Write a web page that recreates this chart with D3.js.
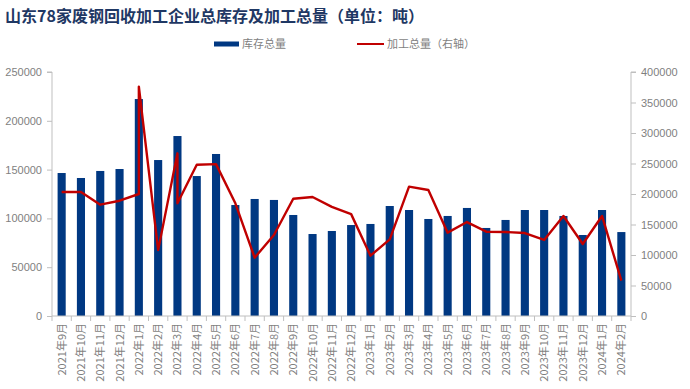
<!DOCTYPE html>
<html>
<head>
<meta charset="utf-8">
<script src="https://cdn.jsdelivr.net/npm/d3@7"></script>
<style>
  body { margin: 0; background: #fff; }
  svg { display: block; }
</style>
</head>
<body>
<div id="chart"></div>
<script>
// month labels on the x axis
const months = [
  '2021年9月', '2021年10月', '2021年11月', '2021年12月',
  '2022年1月', '2022年2月', '2022年3月', '2022年4月', '2022年5月', '2022年6月',
  '2022年7月', '2022年8月', '2022年9月', '2022年10月', '2022年11月', '2022年12月',
  '2023年1月', '2023年2月', '2023年3月', '2023年4月', '2023年5月', '2023年6月',
  '2023年7月', '2023年8月', '2023年9月', '2023年10月', '2023年11月', '2023年12月',
  '2024年1月', '2024年2月'
];

// 库存总量 (left axis)
const stock = [
  146500, 141400, 148600, 150600, 222300, 159800, 184400, 143400, 166000, 113700,
  119900, 118900, 103500, 84000, 87100, 93200, 94300, 112700, 108600, 99400,
  102500, 110700, 90200, 98400, 108600, 108600, 102500, 83000, 108600, 86000
];

// 加工总量 (right axis) - two readings in 2022年1月 and 2022年3月
const procMonths = [
  '2021年9月', '2021年10月', '2021年11月', '2021年12月',
  '2022年1月', '2022年1月', '2022年2月', '2022年3月', '2022年3月', '2022年4月',
  '2022年5月', '2022年6月', '2022年7月', '2022年8月', '2022年9月', '2022年10月',
  '2022年11月', '2022年12月', '2023年1月', '2023年2月', '2023年3月', '2023年4月',
  '2023年5月', '2023年6月', '2023年7月', '2023年8月', '2023年9月', '2023年10月',
  '2023年11月', '2023年12月', '2024年1月', '2024年2月'
];
const processed = [
  203300, 203300, 182500, 189000,
  200000, 376000, 108000, 266700, 184700, 248000,
  249000, 184700, 95600, 132800, 192300, 195000,
  179000, 167000, 98900, 125700, 212000, 206600,
  136600, 154000, 138200, 137700, 136000, 124600,
  164000, 118000, 164000, 57900
];

const leftTicks = [0, 50000, 100000, 150000, 200000, 250000];
const rightTicks = [0, 50000, 100000, 150000, 200000, 250000, 300000, 350000, 400000];

const W = 690, H = 389;
const mLeft = 52, mRight = 631, mTop = 72, mBottom = 316;
const axisColor = '#bfbfbf';
const textColor = '#7f7f7f';
const numFont = '"Liberation Sans", Arial, sans-serif';
const cjkFont = '"Noto Sans CJK SC", sans-serif';

const svg = d3.select('#chart').append('svg')
  .attr('width', W).attr('height', H)
  .attr('viewBox', [0, 0, W, H]);

const x = d3.scaleBand().domain(months).range([mLeft, mRight]).padding(0);
const yL = d3.scaleLinear().domain([0, 250000]).range([mBottom, mTop]);
const yR = d3.scaleLinear().domain([0, 400000]).range([mBottom, mTop]);

// title
svg.append('text')
  .attr('x', 5).attr('y', 22)
  .attr('font-family', cjkFont)
  .attr('font-weight', 'bold')
  .attr('font-size', 16)
  .attr('fill', '#1f3864')
  .text('山东78家废钢回收加工企业总库存及加工总量（单位：吨）');

// legend
const legend = svg.append('g').attr('font-family', cjkFont).attr('font-size', 11).attr('fill', textColor);
legend.append('rect').attr('x', 214).attr('y', 41.5).attr('width', 25).attr('height', 5).attr('fill', '#003882');
legend.append('text').attr('x', 242).attr('y', 48).text('库存总量');
legend.append('line').attr('x1', 357).attr('x2', 384).attr('y1', 44).attr('y2', 44)
  .attr('stroke', '#c00000').attr('stroke-width', 2);
legend.append('text').attr('x', 387).attr('y', 48).text('加工总量（右轴）');

// bars
const barW = x.bandwidth() * 0.42;
svg.append('g').selectAll('rect')
  .data(months)
  .join('rect')
  .attr('x', (d) => x(d) + (x.bandwidth() - barW) / 2)
  .attr('y', (d, i) => yL(stock[i]))
  .attr('width', barW)
  .attr('height', (d, i) => mBottom - yL(stock[i]))
  .attr('fill', '#003882');

// line
const line = d3.line()
  .x((d) => x(d[0]) + x.bandwidth() / 2)
  .y((d) => yR(d[1]));
svg.append('path')
  .datum(procMonths.map((m, i) => [m, processed[i]]))
  .attr('d', line)
  .attr('fill', 'none')
  .attr('stroke', '#c00000')
  .attr('stroke-width', 2.4)
  .attr('stroke-linejoin', 'round');

// left axis
const gL = svg.append('g')
  .attr('transform', `translate(${mLeft},0)`)
  .call(d3.axisLeft(yL).tickValues(leftTicks).tickSize(5).tickPadding(5).tickFormat(d3.format('d')));
// right axis
const gR = svg.append('g')
  .attr('transform', `translate(${mRight},0)`)
  .call(d3.axisRight(yR).tickValues(rightTicks).tickSize(5).tickPadding(5).tickFormat(d3.format('d')));

[gL, gR].forEach((g) => {
  g.select('.domain').attr('stroke', axisColor);
  g.selectAll('.tick line').attr('stroke', axisColor);
  g.selectAll('.tick text')
    .attr('fill', textColor)
    .attr('font-family', numFont)
    .attr('font-size', 11);
});
gL.select('.domain').attr('d', `M-5,${mTop}H0V${mBottom}`);
gR.select('.domain').attr('d', `M5,${mTop}H0V${mBottom}`);

// bottom axis: baseline, ticks at category boundaries, rotated labels
const gB = svg.append('g');
gB.append('line')
  .attr('x1', mLeft).attr('x2', mRight)
  .attr('y1', mBottom).attr('y2', mBottom)
  .attr('stroke', axisColor);
gB.selectAll('line.tick')
  .data(months.map((m) => x(m)).concat([mRight]))
  .join('line')
  .attr('class', 'tick')
  .attr('x1', (d) => d).attr('x2', (d) => d)
  .attr('y1', mBottom).attr('y2', mBottom + 5)
  .attr('stroke', axisColor);
gB.selectAll('text')
  .data(months)
  .join('text')
  .attr('transform', (d) => `translate(${x(d) + x.bandwidth() / 2 + 4},${mBottom + 7}) rotate(-90)`)
  .attr('text-anchor', 'end')
  .attr('font-family', cjkFont)
  .attr('font-size', 11)
  .attr('fill', textColor)
  .text((d) => d);
</script>
</body>
</html>
